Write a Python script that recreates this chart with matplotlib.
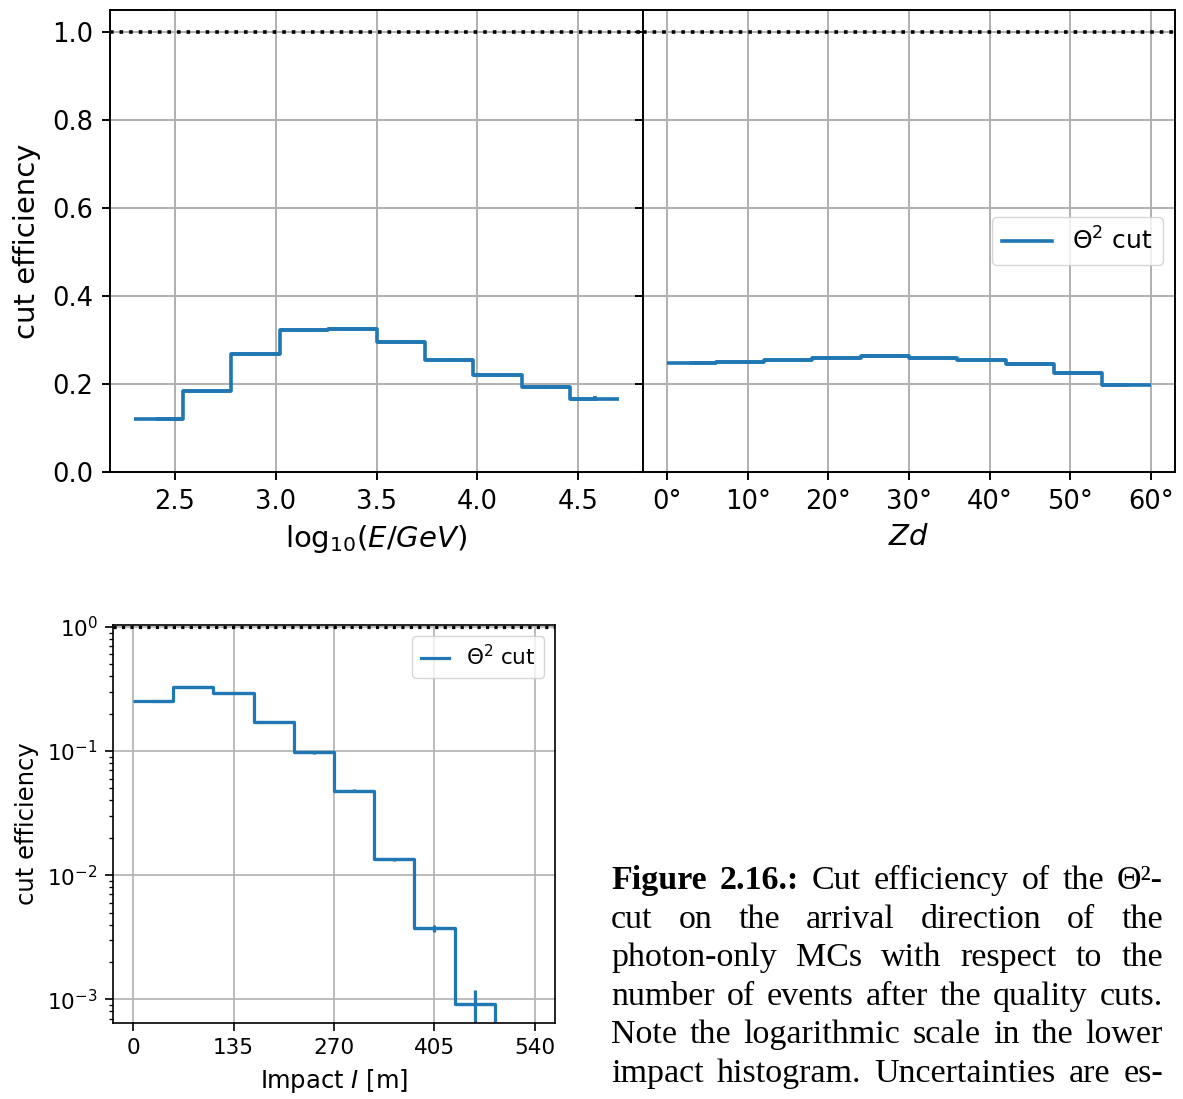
import numpy as np
import matplotlib
matplotlib.use("Agg")
import matplotlib.pyplot as plt

# ---------------- data ----------------
energy_edges = [2.3, 2.54, 2.78, 3.02, 3.26, 3.5, 3.74, 3.98, 4.22, 4.46, 4.7]
energy_eff = [0.121, 0.185, 0.269, 0.322, 0.324, 0.295, 0.255, 0.220, 0.193, 0.167]
energy_err = [0.004, 0.003, 0.003, 0.003, 0.003, 0.003, 0.003, 0.003, 0.004, 0.005]

zd_edges = [0, 6, 12, 18, 24, 30, 36, 42, 48, 54, 60]
zd_eff = [0.248, 0.251, 0.2545, 0.259, 0.2635, 0.258, 0.255, 0.245, 0.226, 0.198]
zd_err = [0.002, 0.002, 0.002, 0.002, 0.002, 0.002, 0.002, 0.002, 0.002, 0.002]
zd_ticks = [0, 10, 20, 30, 40, 50, 60]
zd_ticklabels = ["0°", "10°", "20°", "30°", "40°", "50°", "60°"]

impact_edges = [0, 54, 108, 162, 216, 270, 324, 378, 432, 486, 540]
impact_eff = [0.252, 0.327, 0.291, 0.171, 0.0975, 0.048, 0.0134, 0.00374, 0.00091, 0.0]
impact_err = [0.003, 0.004, 0.004, 0.003, 0.002, 0.0015, 0.0004, 0.00025, 0.00028, 0.0]
impact_ticks = [0, 135, 270, 405, 540]

legend_label = r"$\Theta^2$ cut"

caption_lines = [
    [("Figure", "bold"), ("2.16.:", "bold"), ("Cut", "normal"), ("efficiency", "normal"),
     ("of", "normal"), ("the", "normal"), ("Θ²-", "normal")],
    "cut on the arrival direction of the",
    "photon-only MCs with respect to the",
    "number of events after the quality cuts.",
    "Note the logarithmic scale in the lower",
    "impact histogram. Uncertainties are es-",
]

# ---------------- figure ----------------
W, H = 1183, 1099
fig = plt.figure(figsize=(W / 100, H / 100), dpi=100)
C0 = "#1f77b4"


def ax_px(l, t, r, b, **kw):
    return fig.add_axes([l / W, 1 - b / H, (r - l) / W, (b - t) / H], **kw)


def draw_hist(ax, edges, vals, errs, lw, label=None):
    edges = np.asarray(edges, float)
    vals = np.asarray(vals, float)
    errs = np.asarray(errs, float)
    centers = 0.5 * (edges[1:] + edges[:-1])
    half = 0.5 * (edges[1:] - edges[:-1])
    ax.errorbar(centers, vals, xerr=half, yerr=errs, fmt="none", ecolor=C0, elinewidth=lw)
    ax.plot(centers, vals, drawstyle="steps-mid", color=C0, lw=lw, label=label)


def style(ax, fs, lw_sp, tl, pad):
    for s in ax.spines.values():
        s.set_linewidth(lw_sp)
    ax.tick_params(labelsize=fs, width=lw_sp, length=tl, pad=pad)
    ax.tick_params(which="minor", width=lw_sp * 0.8, length=tl * 0.55)
    ax.grid(True, color="#b0b0b0", lw=lw_sp)
    ax.set_axisbelow(True)


# top-left: energy
ax1 = ax_px(110, 10, 643, 472)
ax2 = ax_px(643, 10, 1175, 472, sharey=ax1)
FS_T = 18.5
for ax in (ax1, ax2):
    style(ax, FS_T, 1.4, 6, 6)
    ax.axhline(1.0, color="k", ls=":", lw=2.6)

draw_hist(ax1, energy_edges, energy_eff, energy_err, 2.6)
ax1.set_xlim(2.18, 4.82)
ax1.set_ylim(0, 1.05)
ax1.set_xticks([2.5, 3.0, 3.5, 4.0, 4.5])
ax1.set_yticks([0.0, 0.2, 0.4, 0.6, 0.8, 1.0])
ax1.set_xlabel(r"log$_{10}$($E/GeV$)", fontsize=21, labelpad=6)
ax1.set_ylabel("cut efficiency", fontsize=21, labelpad=8)

draw_hist(ax2, zd_edges, zd_eff, zd_err, 2.6, label=legend_label)
ax2.set_xlim(-3, 63)
ax2.set_xticks(zd_ticks)
ax2.set_xticklabels(zd_ticklabels)
ax2.tick_params(labelleft=False)
ax2.set_xlabel(r"$Zd$", fontsize=21, labelpad=6)
ax2.legend(loc="center right", fontsize=18, handlelength=2.0)

# bottom: impact (log)
ax3 = ax_px(113, 625, 555, 1023)
style(ax3, 15.5, 1.2, 5.5, 5.5)
ax3.set_yscale("log")
ax3.axhline(1.0, color="k", ls=":", lw=2.3)
draw_hist(ax3, impact_edges, impact_eff, impact_err, 2.3, label=legend_label)
ax3.set_xlim(-27, 567)
ax3.set_ylim(10 ** -3.19, 10 ** 0.015)
ax3.set_xticks(impact_ticks)
ax3.set_xlabel(r"Impact $I$ [m]", fontsize=17.5, labelpad=6)
ax3.set_ylabel("cut efficiency", fontsize=17.5, labelpad=6)
ax3.legend(loc="upper right", fontsize=15.5, handlelength=1.3)

# ---------------- caption (justified) ----------------
renderer = fig.canvas.get_renderer()
cap_left, cap_right = 611, 1163
baselines = [889, 927.6, 966.2, 1004.8, 1043.4, 1082]
cap_fs = 24.5
for line, yb in zip(caption_lines, baselines):
    if isinstance(line, str):
        words = [(w, "normal") for w in line.split(" ")]
    else:
        words = line
    texts = []
    for w, wt in words:
        t = fig.text(0, 1 - yb / H, w, fontsize=cap_fs, family="Liberation Serif",
                     weight=wt, va="baseline", ha="left")
        texts.append(t)
    widths = [t.get_window_extent(renderer).width for t in texts]
    gap = (cap_right - cap_left - sum(widths)) / (len(texts) - 1)
    x = cap_left
    for t, wdt in zip(texts, widths):
        t.set_x(x / W)
        x += wdt + gap

fig.savefig("out.png", dpi=100)
